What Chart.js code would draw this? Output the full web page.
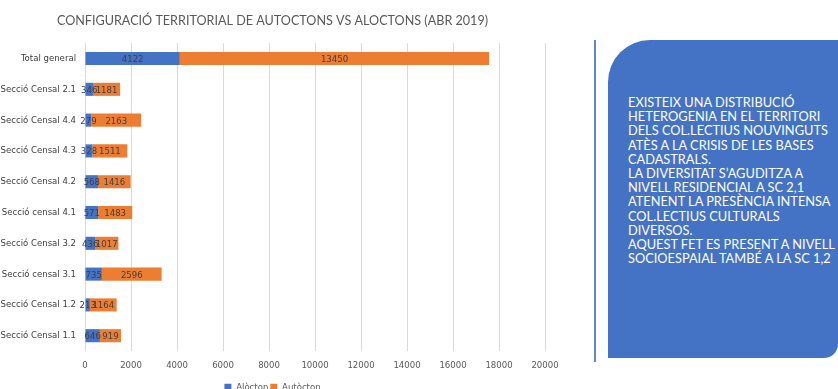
<!DOCTYPE html>
<html>
<head>
<meta charset="utf-8">
<script src="https://cdn.jsdelivr.net/npm/chart.js@4"></script>
<style>
  body { margin: 0; background: #fff; overflow: hidden; width: 838px; height: 389px; position: relative; }
  #wrap { position: absolute; left: 0; top: 0; width: 580px; height: 402px; }
  .linia { position: absolute; left: 594px; top: 40px; width: 2px; height: 322px; background: #5f87cc; }
  .nota {
    position: absolute; left: 608px; top: 40px; width: 230px; height: 318px;
    background: #4472c4; border-radius: 42px 0 14px 0;
    color: #fff; font-family: Lato, sans-serif; font-size: 12.8px; line-height: 14.2px;
    box-sizing: border-box; padding: 55px 0 0 20px; white-space: nowrap;
  }
</style>
</head>
<body>
<div id="wrap"><canvas id="chart_sc"></canvas></div>
<div class="linia"></div>
<div class="nota">
EXISTEIX UNA DISTRIBUCIÓ<br>
HETEROGENIA EN EL TERRITORI<br>
DELS COL.LECTIUS NOUVINGUTS<br>
ATÈS A LA CRISIS DE LES BASES<br>
CADASTRALS.<br>
LA DIVERSITAT S’AGUDITZA A<br>
NIVELL RESIDENCIAL A SC 2,1<br>
ATENENT LA PRESÈNCIA INTENSA<br>
COL.LECTIUS CULTURALS<br>
DIVERSOS.<br>
AQUEST FET ES PRESENT A NIVELL<br>
SOCIOESPAIAL TAMBÉ A LA SC 1,2
</div>
<script>
var seccions = ['Total general', 'Secció Censal 2.1', 'Secció Censal 4.4', 'Secció Censal 4.3',
  'Secció Censal 4.2', 'Secció censal 4.1', 'Secció Censal 3.2', 'Secció censal 3.1',
  'Secció Censal 1.2', 'Secció Censal 1.1'];
var alocton = [4122, 346, 279, 328, 568, 571, 436, 735, 213, 646];
var autocton = [13450, 1181, 2163, 1511, 1416, 1483, 1017, 2596, 1164, 919];

var lletra = "'DejaVu Sans Condensed', Roboto, sans-serif";

// numeros al centre de cada tram
const etiquetes = {
  id: 'etiquetes',
  afterDatasetsDraw(chart) {
    const ctx = chart.ctx;
    ctx.save();
    ctx.font = '9.5px ' + lletra;
    ctx.fillStyle = '#404040';
    ctx.textAlign = 'center';
    ctx.textBaseline = 'middle';
    chart.data.datasets.forEach((ds, i) => {
      chart.getDatasetMeta(i).data.forEach((bar, j) => {
        const p = bar.getCenterPoint();
        ctx.fillText(ds.data[j], p.x, p.y + 1);
      });
    });
    ctx.restore();
  }
};

const el = document.getElementById('chart_sc');
var cha = new Chart(el, {
  type: 'bar',
  data: {
    labels: seccions,
    datasets: [
      { label: 'Alòcton', data: alocton, backgroundColor: '#4472c4', barPercentage: 0.85, categoryPercentage: 0.5 },
      { label: 'Autòcton', data: autocton, backgroundColor: '#ed7d31', barPercentage: 0.85, categoryPercentage: 0.5 }
    ]
  },
  options: {
    indexAxis: 'y',
    responsive: true,
    maintainAspectRatio: false,
    animation: false,
    layout: { padding: { right: 35, top: 2, bottom: 0 } },
    scales: {
      x: {
        stacked: true, min: 0, max: 20000,
        ticks: { stepSize: 2000, color: '#595959', font: { family: lletra, size: 9.5 }, padding: 9,
          callback: v => String(v) },
        grid: { color: '#d9d9d9', drawTicks: false },
        border: { display: false }
      },
      y: {
        stacked: true,
        ticks: { color: '#404040', font: { family: lletra, size: 9.5 }, padding: 1 },
        grid: { display: false },
        border: { display: false },
        afterFit(scale) { scale.width = 85; }
      }
    },
    plugins: {
      title: {
        display: true,
        text: 'CONFIGURACIÓ TERRITORIAL DE AUTOCTONS VS ALOCTONS (ABR 2019)',
        color: '#595959',
        font: { family: 'Lato', size: 12.6, weight: 'normal' },
        padding: { top: 11, bottom: 15 }
      },
      legend: {
        position: 'bottom',
        labels: { boxWidth: 7, boxHeight: 7, color: '#595959', font: { family: lletra, size: 9.5 }, padding: 2 }
      },
      tooltip: { enabled: false }
    }
  },
  plugins: [etiquetes]
});
</script>
</body>
</html>
